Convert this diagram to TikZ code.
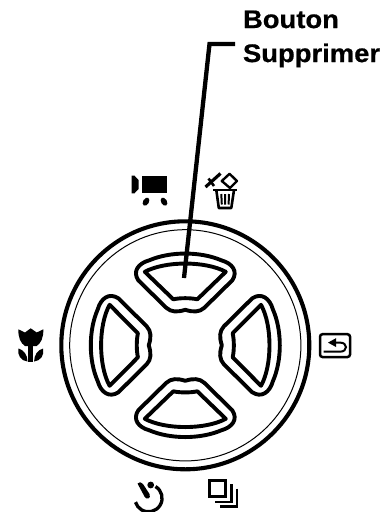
\documentclass[tikz,border=0pt]{standalone}
\usepackage{fontspec}
\setmainfont[FakeStretch=1.075,BoldFeatures={FakeStretch=1.075,FakeBold=0.6}]{Liberation Sans}
\tikzset{
  px/.style={x=1pt,y=-1pt},
  ring/.style={draw=black,line width=4.1pt},
  thinring/.style={draw=black,line width=1pt},
  btn/.style={draw=black,line width=3.9pt,line join=round},
  leader/.style={draw=black,line width=4.3pt,line join=miter},
  ink/.style={fill=black,draw=none},
  iconline/.style={draw=black,line width=2.6pt},
  label/.style={font=\bfseries\fontsize{25.5}{34}\selectfont,align=left,anchor=north west,inner sep=0pt,outer sep=0pt}
}
\newcommand{\dirbutton}[2]{%
  \begin{scope}[shift={(185.3,345.3)},rotate=#1,yscale=#2]
    \draw[btn] (-40.5,-73.5) .. controls (-20,-84.5) and (20,-84.5) .. (40.5,-73.5)
      -- (12,-46) .. controls (5,-47.5) and (-5,-47.5) .. (-12,-46) -- cycle;
    \draw[btn] (-36,-85) .. controls (-15,-94) and (15,-94) .. (36,-85)
      .. controls (47,-82) and (53,-74) .. (47,-65)
      -- (19,-37.5) .. controls (14,-33) and (8,-33) .. (0,-35.5)
      .. controls (-8,-33) and (-14,-33) .. (-19,-37.5)
      -- (-47,-65) .. controls (-53,-74) and (-47,-82) .. (-36,-85) -- cycle;
  \end{scope}}
\begin{document}
\begin{tikzpicture}[px]
\useasboundingbox[fill=white] (0,0) rectangle (388,512);
% wheel
\draw[ring] (185.3,345.3) circle[radius=124];
\draw[thinring] (185.3,345.3) circle[radius=115.6];
\dirbutton{0}{1}
\dirbutton{180}{1}
\dirbutton{90}{1.03}
\dirbutton{-90}{1.03}
% label and leader
\node[label] (lbl) at (243,10.5) {Bouton\\Supprimer};
\coordinate (elbow) at (209.5,44);
\coordinate (start) at (235,44);
\coordinate (tip) at (184,278);
\draw[leader] (start) -- (elbow) -- (tip);
% movie icon
\fill[ink] (131.7,175.7) -- (134.5,175.7) -- (138.5,180) -- (138.5,189) -- (134.5,193.3) -- (131.7,193.3) -- cycle;
\fill[ink] (142.3,175.7) rectangle (167.3,193.3);
\fill[ink] (146,201.7) ellipse[x radius=2.9,y radius=4.4,rotate=-30];
\fill[ink] (164,201.7) ellipse[x radius=2.9,y radius=4.4,rotate=30];
% trash icon
\draw[iconline,line join=round] (213,189.8) -- (237.3,189.8);
\draw[iconline,line join=round] (216.3,190) -- (218.8,208) -- (231.3,208) -- (234,190);
\draw[draw=black,line width=2pt] (221.3,194) -- (221.8,204.5) (225.2,194) -- (225.2,204.5) (229,194) -- (228.6,204.5);
\draw[draw=black,line width=2.4pt,fill=white,line join=round] (221.8,181) -- (229.5,173.8) -- (237,181) -- (230,188) -- cycle;
\draw[draw=black,line width=3.2pt] (205.5,187) -- (220.5,173.5);
\draw[draw=black,line width=2.6pt] (208.5,178.5) -- (214,186);
% tulip icon
\fill[ink] (18.3,329.3) -- (25,332.5) -- (30.7,328.3) -- (36.7,332.5) -- (43.3,329.3)
  .. controls (43.5,338) and (41,343) .. (36.7,346) -- (25,346) .. controls (20.5,343) and (18.3,338) .. (18.3,329.3) -- cycle;
\fill[ink] (28.3,345) rectangle (33.3,361.7);
\fill[ink] (18.5,348.5) .. controls (24,350) and (27.5,355) .. (27.5,361.5) .. controls (21,361) and (17,355) .. (18.5,348.5) -- cycle;
\fill[ink] (43.1,348.5) .. controls (37.6,350) and (34.1,355) .. (34.1,361.5) .. controls (40.6,361) and (44.6,355) .. (43.1,348.5) -- cycle;
% return icon
\draw[draw=black,line width=2.5pt,rounded corners=2.5pt] (320,334.2) rectangle (350,357);
\fill[ink] (328,342.6) -- (336,338.2) -- (336,347) -- cycle;
\draw[draw=black,line width=2pt] (335,342.6) -- (340,342.6) .. controls (348,342.6) and (348,351.7) .. (340,351.7) -- (323.5,351.7);
% timer icon
\draw[draw=black,line width=3.3pt] (155.5,486.5) arc[start angle=-59,end angle=163,radius=13.6];
\fill[ink] (150.7,485) circle[radius=3.4];
\fill[ink] (137.5,483.5) .. controls (139,481.5) and (141.5,482) .. (143,484) -- (149.5,494) .. controls (151.5,498.5) and (146.5,500.5) .. (144.5,496.5) -- cycle;
% multi-shot icon
\draw[draw=black,line width=3pt] (209.5,480.5) rectangle (225.5,496.5);
\draw[draw=black,line width=2.6pt] (231.5,484) -- (231.5,502) -- (214.5,502);
\draw[draw=black,line width=2.6pt] (237,488.5) -- (237,506.5) -- (220,506.5);
\end{tikzpicture}
\end{document}
